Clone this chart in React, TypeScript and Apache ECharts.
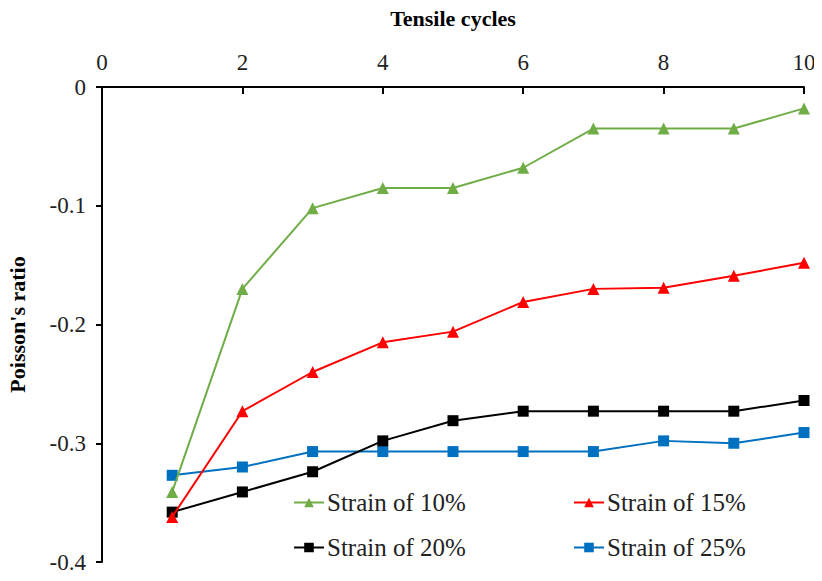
import React, { useEffect, useRef } from "react";
import * as echarts from "echarts";

const cycles = [1, 2, 3, 4, 5, 6, 7, 8, 9, 10];
const strain10 = [-0.341, -0.170, -0.102, -0.085, -0.085, -0.068, -0.035, -0.035, -0.035, -0.018];
const strain15 = [-0.362, -0.273, -0.240, -0.215, -0.206, -0.181, -0.170, -0.169, -0.159, -0.148];
const strain20 = [-0.358, -0.341, -0.324, -0.298, -0.281, -0.273, -0.273, -0.273, -0.273, -0.264];
const strain25 = [-0.327, -0.320, -0.307, -0.307, -0.307, -0.307, -0.307, -0.298, -0.300, -0.291];
const seriesNames = ["Strain of 10%", "Strain of 15%", "Strain of 20%", "Strain of 25%"];
const colors = ["#70AD47", "#FF0000", "#000000", "#0070C0"];
const symbols = ["triangle", "triangle", "rect", "rect"];

const FONT = "Times New Roman";

export default function App() {
  const ref = useRef<HTMLDivElement>(null);
  useEffect(() => {
    if (!ref.current) return;
    const chart = echarts.init(ref.current, undefined, { renderer: "svg" });
    const datasets = [strain10, strain15, strain20, strain25];
    const legendPos = [
      { left: 293, top: 490 },
      { left: 573, top: 490 },
      { left: 293, top: 535 },
      { left: 573, top: 535 },
    ];
    chart.setOption({
      animation: false,
      backgroundColor: "#ffffff",
      textStyle: { fontFamily: FONT, fontStyle: "normal" },
      grid: { left: 102, right: 18, top: 87, bottom: 19, containLabel: false, outerBoundsMode: "none" },
      xAxis: {
        type: "value",
        position: "top",
        min: 0,
        max: 10,
        interval: 2,
        name: "Tensile cycles",
        nameLocation: "middle",
        nameGap: 58,
        nameTextStyle: { fontFamily: FONT, fontSize: 22, fontWeight: "bold", color: "#000" },
        axisLine: { lineStyle: { color: "#000", width: 2 } },
        axisTick: { inside: true, length: 7, lineStyle: { color: "#000", width: 2 } },
        axisLabel: { fontFamily: FONT, fontStyle: "normal", fontSize: 23, color: "#222", margin: 13 },
        splitLine: { show: false },
      },
      yAxis: {
        type: "value",
        min: -0.4,
        max: 0,
        interval: 0.1,
        name: "Poisson's ratio",
        nameLocation: "middle",
        nameGap: 74,
        nameTextStyle: { fontFamily: FONT, fontSize: 22, fontWeight: "bold", color: "#000" },
        axisLine: { onZero: false, lineStyle: { color: "#000", width: 2 } },
        axisTick: { length: 6, lineStyle: { color: "#000", width: 2 } },
        axisLabel: {
          fontFamily: FONT,
          fontStyle: "normal",
          fontSize: 23,
          color: "#222",
          margin: 16,
          formatter: (v: number) => (Math.abs(v) < 1e-9 ? "0" : String(Math.round(v * 10) / 10)),
        },
        splitLine: { show: false },
      },
      legend: seriesNames.map((n, i) => ({
        data: [n],
        left: legendPos[i].left,
        top: legendPos[i].top,
        padding: 0,
        itemWidth: 30,
        itemHeight: 12,
        itemGap: 4,
        textStyle: { fontFamily: FONT, fontStyle: "normal", fontSize: 25, color: "#222", padding: [0, 0, 0, -2] },
      })),
      series: datasets.map((d, i) => ({
        name: seriesNames[i],
        type: "line",
        data: cycles.map((c, j) => [c, d[j]]),
        symbol: symbols[i],
        symbolSize: symbols[i] === "rect" ? 11 : 12,
        lineStyle: { color: colors[i], width: 2 },
        itemStyle: { color: colors[i] },
        z: 10 - i,
      })),
    });
    return () => chart.dispose();
  }, []);
  return <div ref={ref} style={{ width: 822, height: 581, marginLeft: -8, marginTop: -8 }} />;
}
